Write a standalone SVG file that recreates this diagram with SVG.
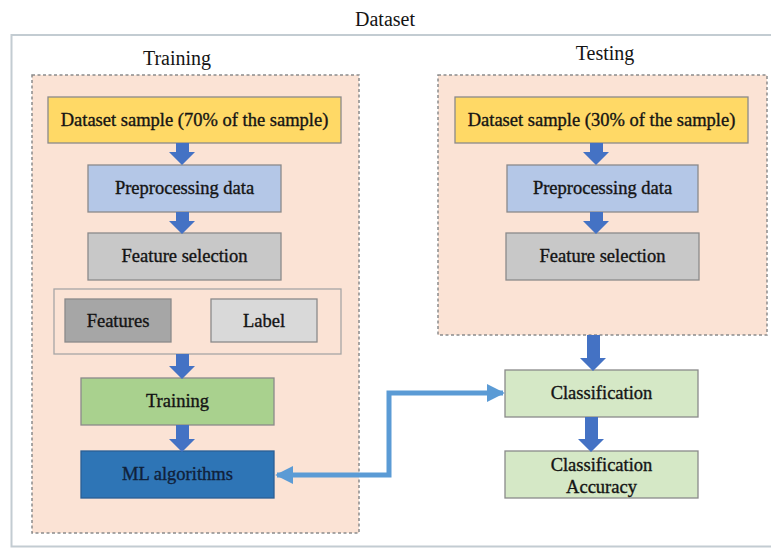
<svg xmlns="http://www.w3.org/2000/svg" width="771" height="548" viewBox="0 0 771 548" font-family="'Liberation Serif', 'DejaVu Serif', serif">
<style>
text{font-family:'Liberation Serif','DejaVu Serif',serif;fill:#141414;text-anchor:middle}
.t{font-size:18.5px;stroke:#141414;stroke-width:0.35}
.title{font-size:20px}
.box{stroke:#8a8a8a;stroke-width:1.3}
.panel{fill:#fbe3d5;stroke:#8c8c8c;stroke-width:1.5;stroke-dasharray:3 2.5}
.barrow{fill:#4472c4}
.conn{fill:none;stroke:#5b9bd5;stroke-width:5}
</style>
<defs>
<marker id="ah" viewBox="0 0 10 10" refX="9" refY="5" markerWidth="3.6" markerHeight="3.6" orient="auto-start-reverse" markerUnits="strokeWidth">
<path d="M0 0 L10 5 L0 10 z" fill="#5b9bd5"/>
</marker>
</defs>
<rect width="771" height="548" fill="#ffffff"/>
<g id="dataset">
<path d="M772 35 H11.5 V546.5 H772" fill="none" stroke="#c3ccd2" stroke-width="2"/>
<text class="title" x="385" y="26">Dataset</text>
</g>
<g id="training-panel">
<rect class="panel" x="32" y="75" width="327" height="458"/>
<text class="title" x="177" y="65">Training</text>
</g>
<g id="testing-panel">
<rect class="panel" x="438" y="75" width="329" height="260"/>
<text class="title" x="605" y="60">Testing</text>
</g>
<g id="train-sample">
<rect class="box" x="48" y="97" width="293" height="46" fill="#ffd966"/>
<text class="t" x="194.5" y="126">Dataset sample (70% of the sample)</text>
</g>
<g id="train-preprocessing">
<rect class="box" x="88" y="165" width="193" height="47" fill="#b4c7e7"/>
<text class="t" x="184.5" y="194">Preprocessing data</text>
</g>
<g id="train-feature-selection">
<rect class="box" x="88" y="233" width="193" height="47" fill="#c8c8c8"/>
<text class="t" x="184.5" y="262">Feature selection</text>
</g>
<g id="features-label-group">
<rect x="54" y="289" width="287" height="65" fill="#fbe3d5" stroke="#a6a6a6" stroke-width="1.3"/>
</g>
<g id="features">
<rect class="box" x="65" y="299" width="106" height="43" fill="#a6a6a6"/>
<text class="t" x="118" y="327">Features</text>
</g>
<g id="label">
<rect class="box" x="211" y="299" width="106" height="43" fill="#d9d9d9"/>
<text class="t" x="264" y="327">Label</text>
</g>
<g id="training">
<rect class="box" x="81" y="378" width="193" height="47" fill="#a9d18e"/>
<text class="t" x="177.5" y="407">Training</text>
</g>
<g id="ml-algorithms">
<rect x="81" y="451" width="193" height="47" fill="#2e75b6" stroke="#2a5f95" stroke-width="1.3"/>
<text class="t" x="177.5" y="480" style="fill:#10213a;stroke:#10213a">ML algorithms</text>
</g>
<g id="test-sample">
<rect class="box" x="455" y="97" width="293" height="46" fill="#ffd966"/>
<text class="t" x="601.5" y="126">Dataset sample (30% of the sample)</text>
</g>
<g id="test-preprocessing">
<rect class="box" x="507" y="165" width="191" height="47" fill="#b4c7e7"/>
<text class="t" x="602.5" y="194">Preprocessing data</text>
</g>
<g id="test-feature-selection">
<rect class="box" x="506" y="233" width="193" height="47" fill="#c8c8c8"/>
<text class="t" x="602.5" y="262">Feature selection</text>
</g>
<g id="classification">
<rect class="box" x="505" y="370" width="193" height="47" fill="#d5e8c6"/>
<text class="t" x="601.5" y="399">Classification</text>
</g>
<g id="classification-accuracy">
<rect class="box" x="505" y="451" width="193" height="47" fill="#d5e8c6"/>
<text class="t" x="601.5" y="471">Classification</text>
<text class="t" x="601.5" y="493">Accuracy</text>
</g>
<g id="connectors">
<path class="barrow" d="M176 143 H189 V152 H195 L182 165 L169 152 H176 Z"/>
<path class="barrow" d="M176 212 H189 V221 H195 L182 234 L169 221 H176 Z"/>
<path class="barrow" d="M176 354 H189 V366 H195 L182 379 L169 366 H176 Z"/>
<path class="barrow" d="M176 425 H189 V439 H195 L182 452 L169 439 H176 Z"/>
<path class="barrow" d="M590 143 H603 V152 H609 L596 165 L583 152 H590 Z"/>
<path class="barrow" d="M590 212 H603 V221 H609 L596 234 L583 221 H590 Z"/>
<path class="barrow" d="M587 335 H600 V358 H606 L593 371 L580 358 H587 Z"/>
<path class="barrow" d="M585 417 H598 V439 H604 L591 452 L578 439 H585 Z"/>
<path class="conn" d="M277 475 H389 V393 H503" marker-start="url(#ah)" marker-end="url(#ah)"/>
</g>
</svg>
